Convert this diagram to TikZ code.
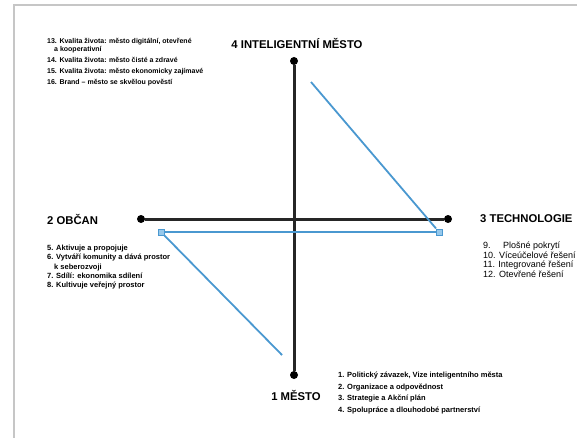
\documentclass[tikz,border=0pt]{standalone}
\usepackage{fontspec}
\setmainfont{Liberation Sans}
\definecolor{lineblue}{RGB}{74,152,208}
\definecolor{sqfill}{RGB}{150,200,235}
\tikzset{
  axisdot/.style={circle, fill=black, inner sep=0pt, minimum size=8pt},
  bluesq/.style={rectangle, draw=lineblue, fill=sqfill, line width=1pt, inner sep=0pt, minimum size=6pt},
  heading/.style={font=\fontsize{11.3}{13}\selectfont\bfseries, inner sep=0pt},
  itemlist/.style={font=\fontsize{7}{8.5}\selectfont\bfseries, align=left, inner sep=0pt, anchor=north west},
  axis/.style={line width=3pt, black!85},
  blueline/.style={line width=1.8pt, lineblue}
}
\begin{document}
\begin{tikzpicture}[x=1pt, y=-1pt]
        \useasboundingbox (0,0) rectangle (577,438);
        % Frame
        \draw[gray!45, line width=2pt] (14,438) -- (14,5) -- (577,5);

        % Axis end points
        \node[axisdot] (intel) at (294,61) {};
        \node[axisdot] (mesto) at (294,375) {};
        \node[axisdot] (obcan) at (141,219) {};
        \node[axisdot] (tech) at (448,219) {};

        % Axes
        \draw[axis] (intel) -- (mesto);
        \draw[axis] (obcan) -- (tech);

        % Blue path
        \node[bluesq] (sqL) at (161,232) {};
        \node[bluesq] (sqR) at (439,232) {};
        \coordinate (topend) at (311,82);
        \coordinate (botend) at (282,355);
        \draw[blueline] (topend) -- (sqR);
        \draw[blueline] (sqR) -- (sqL);
        \draw[blueline] (sqL) -- (botend);

        % Headings
        \node[heading] (hIntel) at (297,43) {4 INTELIGENTNÍ MĚSTO};
        \node[heading, anchor=west] (hObcan) at (47,219) {2 OBČAN};
        \node[heading, anchor=west] (hTech) at (480,219) {3 TECHNOLOGIE};
        \node[heading] (hMesto) at (296,395) {1 MĚSTO};

        % Lists
        \node[itemlist] (lIntel) at (47,38) {13. Kvalita života: město digitální, otevřené\\
          \hspace{7pt}a kooperativní\\[2.5pt]
          14. Kvalita života: město čisté a zdravé\\[2.5pt]
          15. Kvalita života: město ekonomicky zajímavé\\[2.5pt]
          16. Brand – město se skvělou pověstí};
        \node[itemlist, font=\fontsize{7.5}{9.3}\selectfont\bfseries] (lObcan) at (47,245) {5. Aktivuje a propojuje\\
          6. Vytváří komunity a dává prostor\\
          \hspace{7pt}k seberozvoji\\
          7. Sdílí: ekonomika sdílení\\
          8. Kultivuje veřejný prostor};
        \node[itemlist, font=\fontsize{9}{9.5}\selectfont] (lTech) at (483,242) {9.\hspace{9pt} Plošné pokrytí\\
          10. Víceúčelové řešení\\
          11. Integrované řešení\\
          12. Otevřené řešení};
        \node[itemlist, font=\fontsize{7.5}{9}\selectfont\bfseries] (lMesto) at (338,371.5) {1. Politický závazek, Vize inteligentního města\\[2.8pt]
          2. Organizace a odpovědnost\\[2.8pt]
          3. Strategie a Akční plán\\[2.8pt]
          4. Spolupráce a dlouhodobé partnerství};
\end{tikzpicture}
\end{document}
